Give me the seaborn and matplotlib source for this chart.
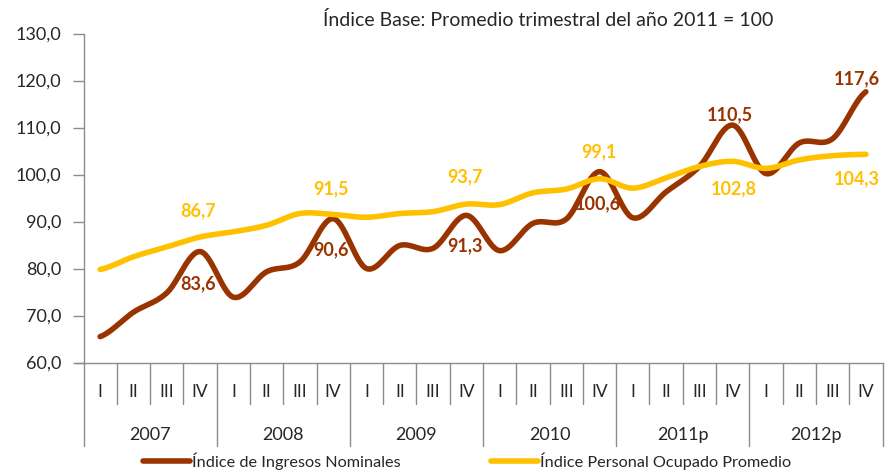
import seaborn as sns
import matplotlib.pyplot as plt
import matplotlib.transforms as mtransforms
import pandas as pd
import numpy as np

# Datos
anios = ['2007', '2008', '2009', '2010', '2011p', '2012p']
trimestres = ['I', 'II', 'III', 'IV']
ingresos = [65.5, 70.7, 74.8, 83.6, 73.9, 79.3, 81.4, 90.6, 80.0, 84.9, 84.3, 91.3,
            83.8, 89.6, 90.5, 100.6, 90.8, 96.3, 101.7, 110.5, 100.2, 106.7, 107.6, 117.6]
personal = [79.8, 82.5, 84.6, 86.7, 87.8, 89.2, 91.7, 91.5, 90.9, 91.7, 92.1, 93.7,
            93.6, 96.1, 96.9, 99.1, 97.1, 99.3, 101.7, 102.8, 101.3, 103.1, 104.0, 104.3]
yticks = [60, 70, 80, 90, 100, 110, 120, 130]

# indices y desplazamientos (pixeles) de las etiquetas de datos
etiq_ingresos = {3: (-2, -32), 7: (-2, -31), 11: (-1, -30), 15: (-2, -32), 19: (-3, 10), 23: (-9, 13)}
etiq_personal = {3: (-2, 26), 7: (-2, 26), 11: (-1, 27), 15: (-1, 27), 19: (1, -27), 23: (-9, -24)}

COL_ING = '#993300'
COL_PER = '#FFC000'
GRIS = '#8C8C8C'


def suavizar(y, n=30):
    # curva suavizada tipo Excel (Catmull-Rom) solo para el trazo
    y = np.asarray(y, float)
    x = np.arange(len(y), dtype=float)
    xs, ys = [], []
    for i in range(len(y) - 1):
        p0 = y[max(i - 1, 0)]
        p1, p2 = y[i], y[i + 1]
        p3 = y[min(i + 2, len(y) - 1)]
        c1 = p1 + (p2 - p0) / 6
        c2 = p2 - (p3 - p1) / 6
        t = np.linspace(0, 1, n, endpoint=False)
        ys.extend((1 - t) ** 3 * p1 + 3 * (1 - t) ** 2 * t * c1 + 3 * (1 - t) * t ** 2 * c2 + t ** 3 * p2)
        xs.extend(x[i] + t)
    xs.append(x[-1])
    ys.append(y[-1])
    return np.array(xs), np.array(ys)


sns.set_style('white')
plt.rcParams['font.family'] = ['Lato', 'DejaVu Sans']

fig = plt.figure(figsize=(8.88, 4.72), dpi=100)
ax = fig.add_axes([83.5 / 888, 1 - 362.5 / 472, 799 / 888, 329 / 472])

xi, yi = suavizar(ingresos)
xp, yp = suavizar(personal)
df_i = pd.DataFrame({'x': xi, 'y': yi})
df_p = pd.DataFrame({'x': xp, 'y': yp})
sns.lineplot(data=df_i, x='x', y='y', ax=ax, color=COL_ING, lw=4, estimator=None,
             label='Índice de Ingresos Nominales', solid_capstyle='round')
sns.lineplot(data=df_p, x='x', y='y', ax=ax, color=COL_PER, lw=4, estimator=None,
             label='Índice Personal Ocupado Promedio', solid_capstyle='round')

ax.set_xlim(-0.5, 23.5)
ax.set_ylim(60, 130)
ax.set_xlabel('')
ax.set_ylabel('')

# eje y
ax.set_yticks(yticks)
ax.set_yticklabels([f'{v:.1f}'.replace('.', ',') for v in yticks], fontsize=13)
ax.tick_params(axis='y', length=8, width=1, color=GRIS, pad=8, left=True)
for s in ['top', 'right']:
    ax.spines[s].set_visible(False)
ax.spines['left'].set_color(GRIS)
ax.spines['bottom'].set_color(GRIS)
ax.spines['left'].set_linewidth(1)
ax.spines['bottom'].set_linewidth(1)

# eje x de dos niveles
ax.set_xticks([])
trans = mtransforms.blended_transform_factory(ax.transData, ax.transAxes)
ax.plot([-0.5 - 8 / 33.3, -0.5], [0, 0], transform=trans, color=GRIS, lw=1, clip_on=False)
for i in range(25):
    prof = -0.255 if i % 4 == 0 else -0.125
    ax.plot([i - 0.5, i - 0.5], [0, prof], transform=trans, color=GRIS, lw=1, clip_on=False)
for i in range(24):
    ax.text(i, -0.089, trimestres[i % 4], transform=trans, ha='center', va='center', fontsize=12.5)
for j, a in enumerate(anios):
    ax.text(4 * j + 1.5, -0.22, a, transform=trans, ha='center', va='center', fontsize=13)

# etiquetas de datos
for i, (dx, dy) in etiq_ingresos.items():
    ax.annotate(f'{ingresos[i]:.1f}'.replace('.', ','), (i, ingresos[i]), xytext=(dx, dy),
                textcoords='offset pixels', ha='center', va='center', fontsize=13,
                fontweight='bold', color=COL_ING, annotation_clip=False, zorder=5)
for i, (dx, dy) in etiq_personal.items():
    ax.annotate(f'{personal[i]:.1f}'.replace('.', ','), (i, personal[i]), xytext=(dx, dy),
                textcoords='offset pixels', ha='center', va='center', fontsize=13,
                fontweight='bold', color=COL_PER, annotation_clip=False, zorder=5)

fig.text(548 / 888, 1 - 20 / 472, 'Índice Base: Promedio trimestral del año 2011 = 100',
         ha='center', va='center', fontsize=14,
         family=['Liberation Sans Narrow', 'Lato', 'DejaVu Sans'])

leg = ax.legend(loc='center', bbox_to_anchor=(467 / 888, 1 - 461 / 472),
                bbox_transform=fig.transFigure, ncol=2, frameon=False, fontsize=11.7,
                handlelength=2.9, handletextpad=0.1, columnspacing=5.6, borderaxespad=0,
                borderpad=0)
for h in leg.get_lines():
    h.set_linewidth(4)

fig.savefig('out.png', dpi=100)
